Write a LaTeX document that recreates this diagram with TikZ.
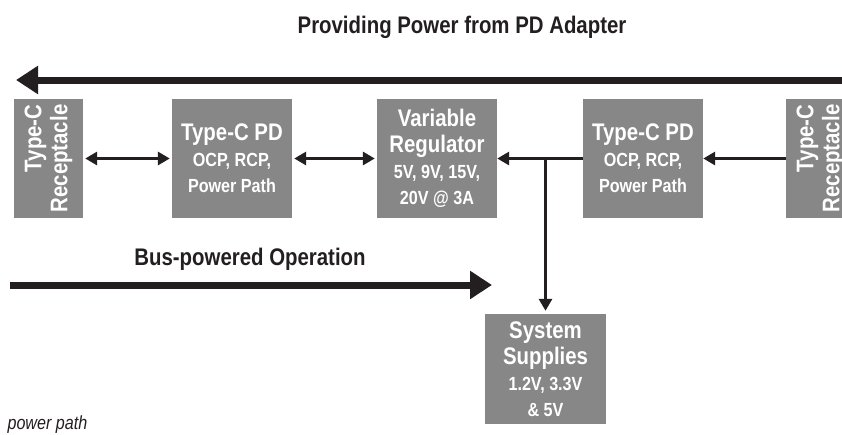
\documentclass[tikz,border=0pt]{standalone}
\usepackage{fontspec}
\setmainfont{Liberation Sans}[FakeStretch=0.85]
\usetikzlibrary{arrows.meta,positioning}

\definecolor{boxgray}{HTML}{878787}
\definecolor{inkdark}{HTML}{231F20}
\newcommand{\headtxt}{\fontsize{24}{26}\selectfont}
\newcommand{\subtxt}{\fontsize{19}{26}\selectfont}

\begin{document}
\begin{tikzpicture}[x=1pt,y=-1pt,
        box/.style={fill=boxgray,text=white,font=\bfseries\headtxt,align=center,
                    inner sep=0pt,minimum width=120pt,minimum height=119pt},
        socket/.style={box,rotate=90,align=right,minimum width=119pt,minimum height=69pt},
        flow/.style={draw=inkdark,line width=3pt,-{Triangle[length=12pt,width=13pt]}},
        biflow/.style={flow,{Triangle[length=12pt,width=13pt]}-{Triangle[length=12pt,width=13pt]},
                       shorten <=2pt,shorten >=2pt},
        bigflow/.style={draw=inkdark,line width=7pt,-{Triangle[length=22pt,width=27pt]}},
        caption/.style={text=inkdark,font=\bfseries\headtxt}]
        \useasboundingbox (0,0) rectangle (842,434);

        \node[socket] at (48.5,158.5) (recL) {Type-C\\Receptacle};
        \node[box] at (232,158.5) (pdL) {Type-C PD\\\subtxt OCP, RCP,\\\subtxt Power Path};
        \node[box] at (437,158.5) (reg) {Variable\\Regulator\\\subtxt 5V, 9V, 15V,\\\subtxt 20V @ 3A};
        \node[box] at (643,158.5) (pdR) {Type-C PD\\\subtxt OCP, RCP,\\\subtxt Power Path};
        \node[socket] at (820.5,158.5) (recR) {Type-C\\Receptacle};
        \node[box,minimum width=121pt,minimum height=110pt] at (545.5,369) (sys)
             {System\\Supplies\\\subtxt 1.2V, 3.3V\\\subtxt \& 5V};

        \draw[biflow] (recL) -- (pdL);
        \draw[biflow] (pdL) -- (reg);
        \draw[flow] (recR) -- (pdR);
        \draw[flow] (pdR) -- (reg);
        \coordinate (junc) at (sys.north |- reg.east);
        \draw[flow,shorten >=3pt] (junc) -- (sys.north);

        % power direction arrows
        \node[caption] at (462,27) (provlbl) {Providing Power from PD Adapter};
        \coordinate (provR) at (850,80);
        \coordinate (provL) at (16,80);
        \draw[bigflow] (provR) -- (provL);

        \node[caption] at (250,259) (buslbl) {Bus-powered Operation};
        \coordinate (busL) at (10,285);
        \coordinate (busR) at (492,285);
        \draw[bigflow] (busL) -- (busR);

        \node[text=inkdark,font=\itshape\fontsize{19}{22}\selectfont,anchor=base west]
             at (4,429) (note) {power path};
\end{tikzpicture}
\end{document}
